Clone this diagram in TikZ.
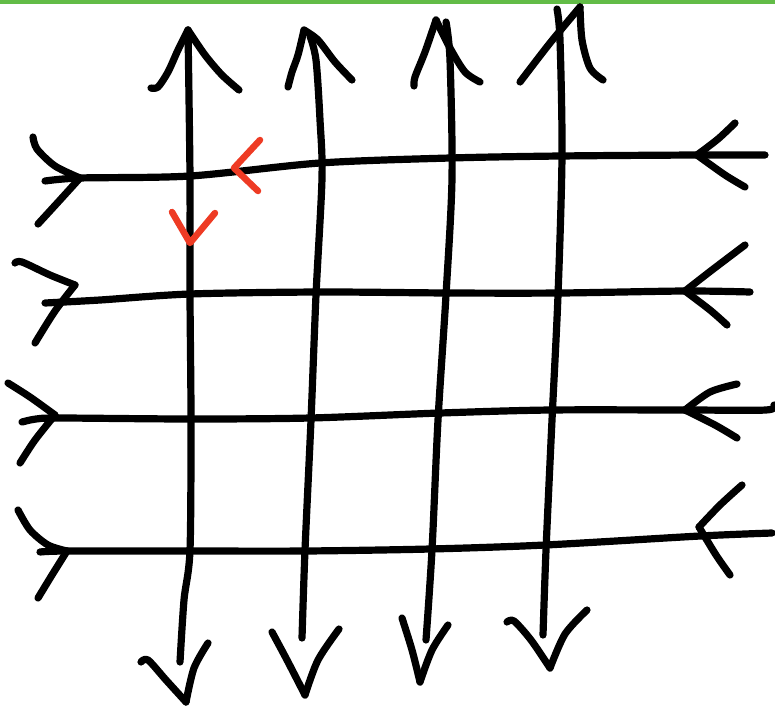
\documentclass[tikz,border=0pt]{standalone}
\usetikzlibrary{calc}
\definecolor{barGreen}{HTML}{62BC47}
\definecolor{markRed}{HTML}{EE3B24}

\begin{document}
\begin{tikzpicture}[x=1pt,y=-1pt,
  pen/.style={line width=7.2pt,line cap=round,line join=round},
  redpen/.style={pen,draw=markRed,line width=6.5pt}]
\useasboundingbox (0,0) rectangle (775,710);
\fill[barGreen] (0,0) rectangle (775,3.5);

% ends of the strokes and tips of the heads
\coordinate (v1top) at (188,30);  \coordinate (v1bot) at (180,662); \coordinate (v1tip) at (186,702);
\coordinate (v2top) at (304,30);  \coordinate (v2bot) at (302,638); \coordinate (v2tip) at (305,695);
\coordinate (v3top) at (436,20);  \coordinate (v3bot) at (426,640); \coordinate (v3tip) at (420,682);
\coordinate (v4top) at (580,7);   \coordinate (v4bot) at (543,635); \coordinate (v4tip) at (550,668);
\coordinate (h1w) at (45,181);  \coordinate (h1wtip) at (80,178);  \coordinate (h1etip) at (697,155); \coordinate (h1e) at (765,155);
\coordinate (h2w) at (45,303);  \coordinate (h2wtip) at (75,285);  \coordinate (h2etip) at (685,291); \coordinate (h2e) at (750,292);
\coordinate (h3w) at (22,422);  \coordinate (h3wtip) at (55,415);  \coordinate (h3etip) at (685,410); \coordinate (h3e) at (774,405);
\coordinate (h4w) at (40,552);  \coordinate (h4wtip) at (67,551);  \coordinate (h4etip) at (699,527); \coordinate (h4e) at (772,533);

% vertical strokes
\draw[pen] plot[smooth] coordinates {(v1top) (190,178) (190,295) (191,420) (190,550) (184,600) (v1bot)};
\draw[pen] plot[smooth] coordinates {(310,36) (316,60) (320,120) (322,178) (316,295) (311,420) (305,550) (v2bot)};
\draw[pen] plot[smooth] coordinates {(446,22) (450,60) (452,178) (446,295) (438,420) (432,550) (v3bot)};
\draw[pen] plot[smooth] coordinates {(557,9) (560,40) (562,155) (558,295) (552,420) (546,550) (v4bot)};

% heads at the top
\draw[pen] plot[smooth] coordinates {(151,88) (158,87) (168,72) (178,50) (v1top)};
\draw[pen] plot[smooth] coordinates {(v1top) (205,55) (222,75) (239,90)};
\draw[pen] plot[smooth] coordinates {(288,87) (292,72) (298,55) (v2top)};
\draw[pen] plot[smooth] coordinates {(v2top) (318,40) (335,62) (352,80)};
\draw[pen] plot[smooth] coordinates {(414,86) (415,77) (425,52) (v3top)};
\draw[pen] plot[smooth] coordinates {(v3top) (450,48) (465,72) (480,82)};
\draw[pen] plot[smooth] coordinates {(520,82) (550,43) (v4top)};
\draw[pen] plot[smooth] coordinates {(v4top) (582,40) (590,68) (603,80)};

% heads at the bottom
\draw[pen] plot[smooth] coordinates {(141,662) (148,660) (166,680) (v1tip)};
\draw[pen] plot[smooth] coordinates {(v1tip) (194,668) (208,643)};
\draw[pen] plot[smooth] coordinates {(272,632) (287,660) (v2tip)};
\draw[pen] plot[smooth] coordinates {(v2tip) (318,660) (339,629)};
\draw[pen] plot[smooth] coordinates {(402,618) (412,650) (v3tip)};
\draw[pen] plot[smooth] coordinates {(v3tip) (432,650) (448,625)};
\draw[pen] plot[smooth] coordinates {(507,622) (514,621) (531,640) (v4tip)};
\draw[pen] plot[smooth] coordinates {(v4tip) (565,634) (587,610)};

% horizontal strokes
\draw[pen] plot[smooth] coordinates {(h1w) (h1wtip) (190,176) (320,163) (450,158) (560,156) (h1etip) (h1e)};
\draw[pen] plot[smooth] coordinates {(h2w) (100,300) (190,294) (320,292) (450,293) (560,293) (h2etip) (h2e)};
\draw[pen] plot[smooth] coordinates {(h3w) (36,419) (60,418) (190,419) (310,418) (440,413) (550,410) (h3etip) (766,410) (h3e)};
\draw[pen] plot[smooth] coordinates {(h4w) (h4wtip) (190,551) (305,551) (430,549) (545,545) (700,536) (h4e)};

% heads at the left
\draw[pen] plot[smooth] coordinates {(33,137) (37,149) (55,166) (h1wtip)};
\draw[pen] plot[smooth] coordinates {(h1wtip) (60,200) (38,224)};
\draw[pen] plot[smooth] coordinates {(15,263) (22,262) (50,275) (h2wtip)};
\draw[pen] plot[smooth] coordinates {(h2wtip) (55,311) (35,343)};
\draw[pen] plot[smooth] coordinates {(8,383) (30,397) (h3wtip)};
\draw[pen] plot[smooth] coordinates {(h3wtip) (35,440) (20,463)};
\draw[pen] plot[smooth] coordinates {(18,510) (30,530) (48,545) (h4wtip)};
\draw[pen] plot[smooth] coordinates {(h4wtip) (52,575) (38,598)};

% heads at the right
\draw[pen] plot[smooth] coordinates {(735,123) (718,139) (h1etip)};
\draw[pen] plot[smooth] coordinates {(h1etip) (725,175) (745,187)};
\draw[pen] plot[smooth] coordinates {(745,245) (712,270) (h2etip)};
\draw[pen] plot[smooth] coordinates {(h2etip) (710,310) (727,325)};
\draw[pen] plot[smooth] coordinates {(737,384) (710,392) (h3etip)};
\draw[pen] plot[smooth] coordinates {(h3etip) (715,425) (737,438)};
\draw[pen] plot[smooth] coordinates {(742,485) (720,505) (h4etip)};
\draw[pen] plot[smooth] coordinates {(h4etip) (716,555) (730,575)};

% red marks
\coordinate (redw) at (234,168);
\coordinate (reds) at (190,243);
\draw[redpen] (260,140) -- (redw) -- (258,191);
\draw[redpen] (172,212) -- (reds) -- (215,213);
\end{tikzpicture}
\end{document}
